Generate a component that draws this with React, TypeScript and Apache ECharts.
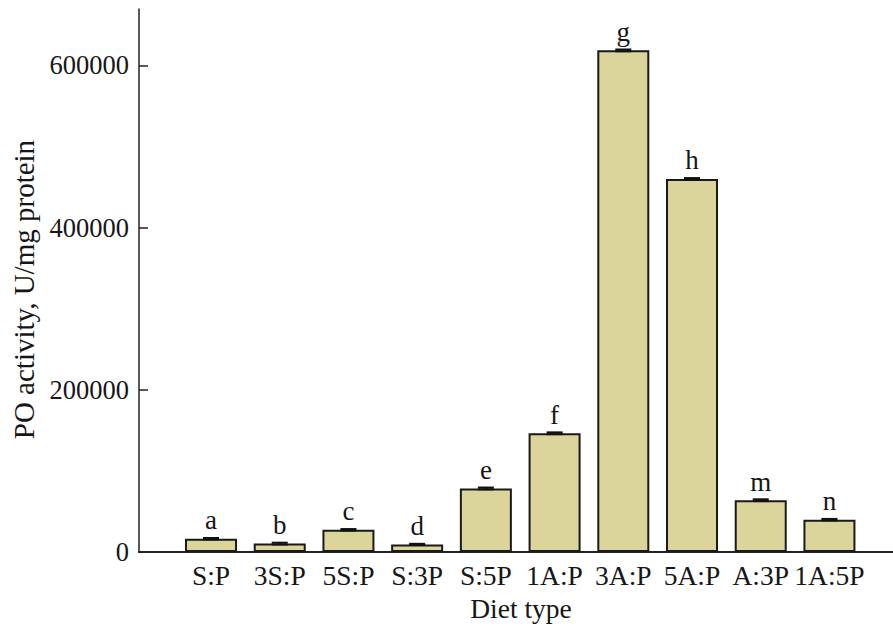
import React, { useEffect, useRef } from 'react';
import * as echarts from 'echarts';

const categories = ['S:P', '3S:P', '5S:P', 'S:3P', 'S:5P', '1A:P', '3A:P', '5A:P', 'A:3P', '1A:5P'];
const values = [16500, 10500, 27500, 9500, 78500, 146500, 618500, 460000, 64000, 40000];
const errors = [900, 1100, 900, 700, 1100, 1100, 1100, 1100, 1100, 900];
const letters = ['a', 'b', 'c', 'd', 'e', 'f', 'g', 'h', 'm', 'n'];
const yTicks = [0, 200000, 400000, 600000];
const catIndex = categories.map((_, i) => i);

const FONT = '"Liberation Serif", "Times New Roman", serif';
const INK = '#161616';

export default function App() {
  const ref = useRef<HTMLDivElement>(null);
  useEffect(() => {
    if (!ref.current) return;
    const chart = echarts.init(ref.current, undefined, { renderer: 'svg' });
    chart.setOption({
      animation: false,
      backgroundColor: '#ffffff',
      textStyle: { fontFamily: FONT },
      grid: { left: 139, right: 0, top: 9, bottom: 69, containLabel: false },
      xAxis: {
        type: 'value',
        min: -1.048,
        max: 9.925,
        name: 'Diet type',
        nameLocation: 'middle',
        nameGap: 41,
        nameTextStyle: { fontSize: 27.5, color: INK, fontFamily: FONT, padding: [0, 0, 0, 10] },
        axisLine: { show: true, onZero: false, lineStyle: { color: '#222', width: 2 } },
        axisTick: { show: false },
        splitLine: { show: false },
        axisLabel: {
          customValues: catIndex,
          formatter: (v: number) => categories[Math.round(v)] ?? '',
          fontSize: 27.5,
          color: INK,
          fontFamily: FONT,
          margin: 9,
        },
      },
      yAxis: {
        type: 'value',
        min: 0,
        max: 669500,
        name: 'PO activity, U/mg protein',
        nameLocation: 'middle',
        nameGap: 99,
        nameTextStyle: { fontSize: 29, color: INK, fontFamily: FONT, padding: [0, 18, 0, 0] },
        axisLine: { show: true, onZero: false, lineStyle: { color: '#222', width: 1.5 } },
        axisTick: { show: true, inside: true, length: 9, customValues: yTicks, lineStyle: { color: '#222', width: 1.5 } },
        splitLine: { show: false },
        axisLabel: {
          customValues: yTicks,
          formatter: (v: number) => String(v),
          fontSize: 26.5,
          color: INK,
          fontFamily: FONT,
          margin: 10,
        },
      },
      series: [
        {
          type: 'bar',
          data: values.map((v, i) => [i, v]),
          barWidth: 52,
          itemStyle: { color: '#dbd49b', borderColor: '#1a1a1a', borderWidth: 2 },
          label: {
            show: true,
            position: 'top',
            distance: 5,
            formatter: (p: any) => letters[p.dataIndex],
            fontSize: 27,
            color: INK,
            fontFamily: FONT,
          },
          z: 2,
        },
        {
          type: 'custom',
          data: values.map((v, i) => [i, v, errors[i]]),
          encode: { x: 0, y: 1 },
          z: 3,
          renderItem: (params: any, api: any) => {
            const x = api.value(0);
            const v = api.value(1);
            const e = api.value(2);
            const top = api.coord([x, v + e]);
            const bot = api.coord([x, v - e]);
            const hw = 8;
            const style = { stroke: '#111', lineWidth: 2 };
            return {
              type: 'group',
              children: [
                { type: 'line', shape: { x1: top[0], y1: top[1], x2: bot[0], y2: bot[1] }, style },
                { type: 'line', shape: { x1: top[0] - hw, y1: top[1], x2: top[0] + hw, y2: top[1] }, style },
                { type: 'line', shape: { x1: bot[0] - hw, y1: bot[1], x2: bot[0] + hw, y2: bot[1] }, style },
              ],
            };
          },
        },
      ],
    });
    return () => chart.dispose();
  }, []);
  return (
    <div
      ref={ref}
      style={{ position: 'absolute', left: 0, top: 0, width: 893, height: 627 }}
    />
  );
}
